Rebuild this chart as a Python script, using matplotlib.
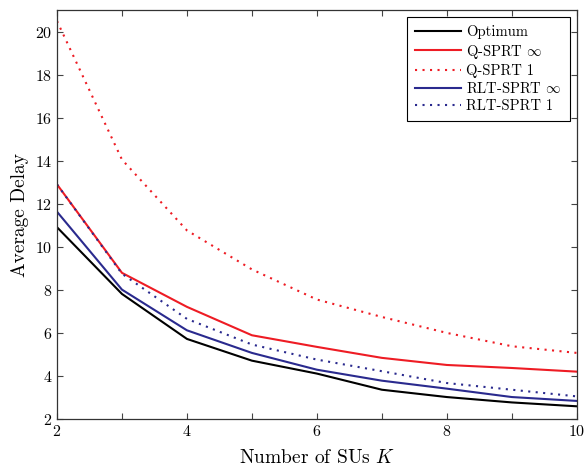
import numpy as np
import matplotlib
matplotlib.use('Agg')
import matplotlib.pyplot as plt

num_sus = [2, 3, 4, 5, 6, 7, 8, 9, 10]

optimum = [10.91, 7.81, 5.72, 4.71, 4.11, 3.36, 3.02, 2.77, 2.59]
q_sprt_inf = [12.90, 8.79, 7.21, 5.89, 5.35, 4.84, 4.51, 4.37, 4.20]
q_sprt_1 = [20.49, 14.05, 10.76, 8.95, 7.55, 6.74, 6.00, 5.38, 5.07]
rlt_sprt_inf = [11.63, 8.01, 6.12, 5.07, 4.29, 3.78, 3.41, 3.02, 2.84]
rlt_sprt_1 = [12.90, 8.75, 6.65, 5.46, 4.76, 4.22, 3.67, 3.36, 3.05]

labels = ['Optimum', r'Q-SPRT $\infty$', 'Q-SPRT 1',
          r'RLT-SPRT $\infty$', 'RLT-SPRT 1']


def plot_delay(figure_file):
    plt.rcParams['font.family'] = 'serif'
    plt.rcParams['font.serif'] = ['cmr10']
    plt.rcParams['mathtext.fontset'] = 'cm'
    plt.rcParams['axes.formatter.use_mathtext'] = True
    plt.rcParams['xtick.direction'] = 'in'
    plt.rcParams['ytick.direction'] = 'in'

    fig = plt.figure(figsize=(5.85, 4.68), dpi=100)
    ax = fig.add_axes([0.0974, 0.1047, 0.8886, 0.8739])

    red = '#ee1c24'
    blue = '#2a2a8e'
    dots = (0, (1, 2.6))
    ax.plot(num_sus, optimum, color='black', lw=1.5, label=labels[0])
    ax.plot(num_sus, q_sprt_inf, color=red, lw=1.5, label=labels[1])
    ax.plot(num_sus, q_sprt_1, color=red, lw=1.5, linestyle=dots,
            label=labels[2])
    ax.plot(num_sus, rlt_sprt_inf, color=blue, lw=1.5, label=labels[3])
    ax.plot(num_sus, rlt_sprt_1, color=blue, lw=1.5, linestyle=dots,
            label=labels[4])

    ax.set_xlim([2, 10])
    ax.set_ylim([2, 21])
    ax.set_xticks([2, 4, 6, 8, 10])
    ax.set_xticks([3, 5, 7, 9], minor=True)
    ax.set_yticks(np.arange(2, 21, 2))
    ax.tick_params(which='both', top=True, right=True, labelsize=11.5,
                   color='#444444', length=4, width=0.8)
    ax.tick_params(which='minor', length=4)
    for spine in ax.spines.values():
        spine.set_color('#333333')
        spine.set_linewidth(0.9)

    ax.set_xlabel('Number of SUs $K$', fontsize=14, labelpad=7)
    ax.set_ylabel('Average Delay', fontsize=14)

    leg = ax.legend(loc='upper right', fontsize=10.5, fancybox=False,
                    framealpha=1, edgecolor='black', handlelength=3.1,
                    handletextpad=0.4, borderaxespad=0.5,
                    labelspacing=0.22, borderpad=0.55)
    leg.get_frame().set_linewidth(0.8)

    fig.savefig(figure_file, dpi=100)


if __name__ == '__main__':
    plot_delay('out.png')
